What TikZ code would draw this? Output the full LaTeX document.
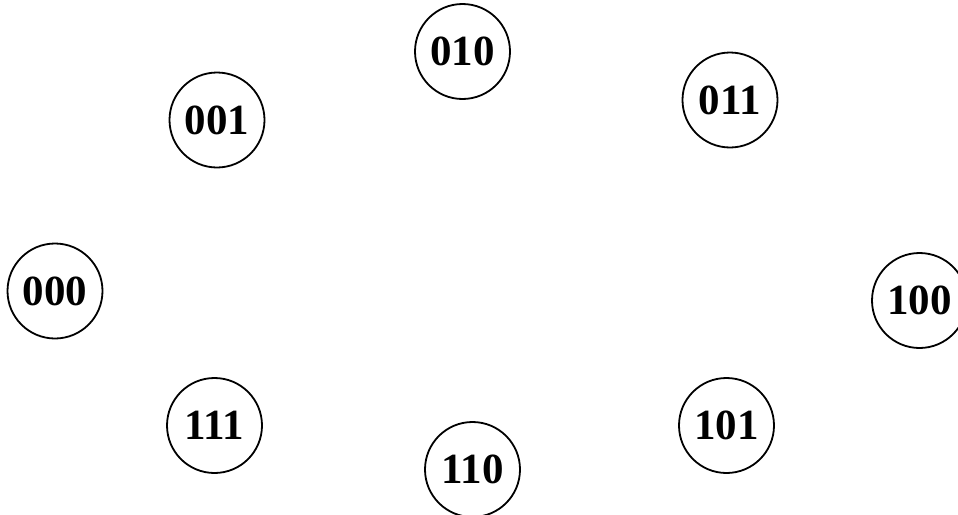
\documentclass[tikz,border=0pt]{standalone}
\usepackage{fontspec}
\setmainfont{Liberation Serif}
\begin{document}
\begin{tikzpicture}[x=1pt,y=-1pt,
  state/.style={draw, circle, line width=1.8pt, minimum size=95pt, inner sep=0pt,
    font=\fontsize{43}{43}\selectfont\bfseries}]
\useasboundingbox (0,0) rectangle (958,514);
\clip (0,0) rectangle (958,514);
\node[state] (n010) at (462.5,51.5) {010};
\node[state] (n001) at (217,120) {001};
\node[state] (n011) at (730,100) {011};
\node[state] (n000) at (55,291) {000};
\node[state] (n100) at (919.5,300.5) {100};
\node[state] (n111) at (214.5,425.5) {111};
\node[state] (n110) at (472.5,469.5) {110};
\node[state] (n101) at (726.5,425.5) {101};
\end{tikzpicture}
\end{document}
